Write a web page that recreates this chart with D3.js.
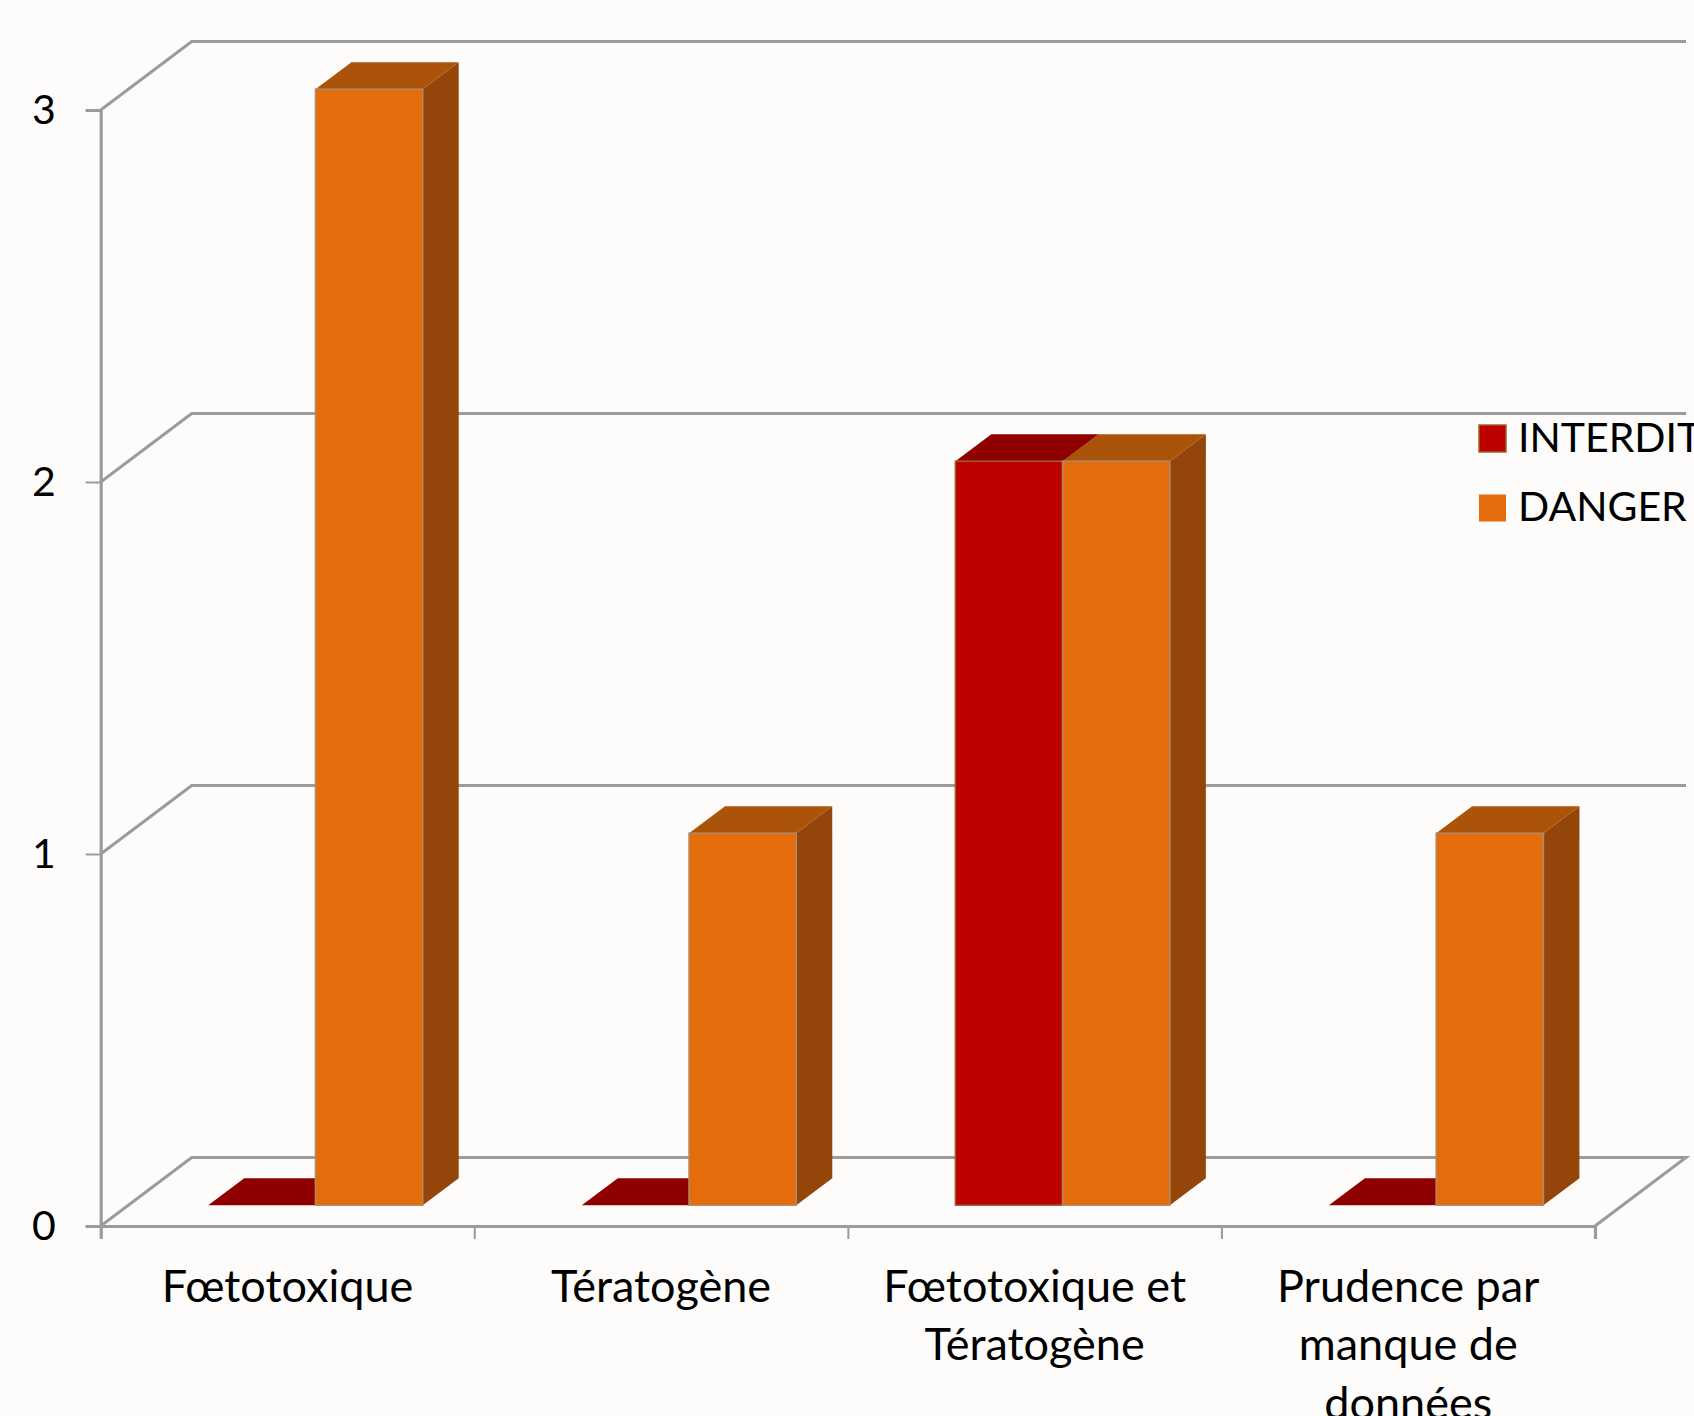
<!DOCTYPE html>
<html><head><meta charset="utf-8">
<script src="https://cdnjs.cloudflare.com/ajax/libs/d3/7.8.5/d3.min.js"></script>
<style>html,body{margin:0;padding:0;background:#fdfcfa;overflow:hidden}svg{display:block}text{font-family:Lato,sans-serif;fill:#000}</style>
</head><body><svg id="c" width="1694" height="1416"></svg>
<script>
const categories=[["Fœtotoxique"],["Tératogène"],["Fœtotoxique et","Tératogène"],["Prudence par","manque de","données"]];
const seriesNames=["INTERDIT","DANGER"];
const interdit=[0,0,2,0];
const danger=[3,1,2,1];
const yTicks=[0,1,2,3];
const palette={INTERDIT:{front:"#bd0000",top:"#8f0000",side:"#8f0000",edge:"#a0602c"},DANGER:{front:"#e46c0a",top:"#ab5308",side:"#94450a",edge:"#b08a6c"}};

const svg=d3.select("#c");
const grey="#9b9b99", FS=41, FSC=45;
const wall={dx:91,dy:-68.5}, floorFront={dx:27.5,dy:-20.8}, barDepth={dx:36,dy:-27};
const x0=100.7,x1=1595;
const y=d3.scaleLinear().domain([0,3]).range([1226,110]);
const xEdge=d3.scaleLinear().domain([0,4]).range([x0,x1]);
const x=d3.scaleBand().domain(d3.range(4)).range([x0,x1]);
const xBar=d3.scaleBand().domain(seriesNames).range([80,80+214.5]);

// walls
const g=svg.append("g").attr("fill","none").attr("stroke",grey).attr("stroke-width",3);
g.selectAll(".grid").data(yTicks.slice(1)).join("path").attr("d",v=>`M${x0},${y(v)}L${x0+wall.dx},${y(v)+wall.dy}L${x1+wall.dx},${y(v)+wall.dy}`);
g.append("path").attr("d",`M${x0},${y(0)}L${x0+wall.dx},${y(0)+wall.dy}L${x1+wall.dx},${y(0)+wall.dy}L${x1},${y(0)}`);

// axes
const ay=svg.append("g").attr("transform",`translate(${x0},0)`).call(d3.axisLeft(y).tickValues(yTicks).tickSize(15).tickPadding(30).tickFormat(d3.format("d")));
const ax=svg.append("g").attr("transform",`translate(0,${y(0)})`).call(d3.axisBottom(xEdge).tickValues(d3.range(5)).tickSize(13).tickFormat(""));
[ay,ax].forEach(a=>{a.selectAll(".domain").attr("stroke",grey).attr("stroke-width",3.2);a.selectAll("line").attr("stroke",grey).attr("stroke-width",2)});
ay.selectAll("text").attr("font-size",FS).attr("fill","#000").attr("font-family","Lato,sans-serif").attr("dy","0.34em");

// bars
const bars=[];
categories.forEach((c,i)=>seriesNames.forEach((s,j)=>bars.push({i,s,v:[interdit,danger][j][i]})));
const b=svg.append("g").selectAll("g").data(bars).join("g").attr("transform",d=>`translate(${x(d.i)+xBar(d.s)+floorFront.dx},${floorFront.dy})`);
const w=xBar.bandwidth();
b.append("path").attr("fill",d=>palette[d.s].side).attr("d",d=>`M${w},${y(d.v)}l${barDepth.dx},${barDepth.dy}L${w+barDepth.dx},${y(0)+barDepth.dy}L${w},${y(0)}Z`);
b.append("path").attr("fill",d=>palette[d.s].top).attr("d",d=>`M0,${y(d.v)}l${barDepth.dx},${barDepth.dy}h${w}l${-barDepth.dx},${-barDepth.dy}Z`);
b.filter(d=>d.v>0).append("rect").attr("x",0).attr("width",w).attr("y",d=>y(d.v)).attr("height",d=>y(0)-y(d.v)).attr("fill",d=>palette[d.s].front).attr("stroke",d=>palette[d.s].edge).attr("stroke-width",1.5);

// category labels
svg.append("g").selectAll("text").data(categories).join("text").attr("text-anchor","middle").attr("font-size",FSC)
  .attr("transform",(d,i)=>`translate(${x(i)+x.bandwidth()/2},1301.5)`)
  .selectAll("tspan").data(d=>d).join("tspan").attr("x",0).attr("y",(d,i)=>i*58.5).text(d=>d);

// legend
const lg=svg.append("g").selectAll("g").data(seriesNames).join("g").attr("transform",(d,i)=>`translate(1479,${425+i*69.5})`);
lg.append("rect").attr("width",27).attr("height",27).attr("fill",d=>palette[d].front).attr("stroke",d=>d==="INTERDIT"?palette[d].edge:"none").attr("stroke-width",1.5);
lg.append("text").attr("x",39).attr("y",26.5).attr("font-size",FS).text(d=>d);
</script></body></html>
